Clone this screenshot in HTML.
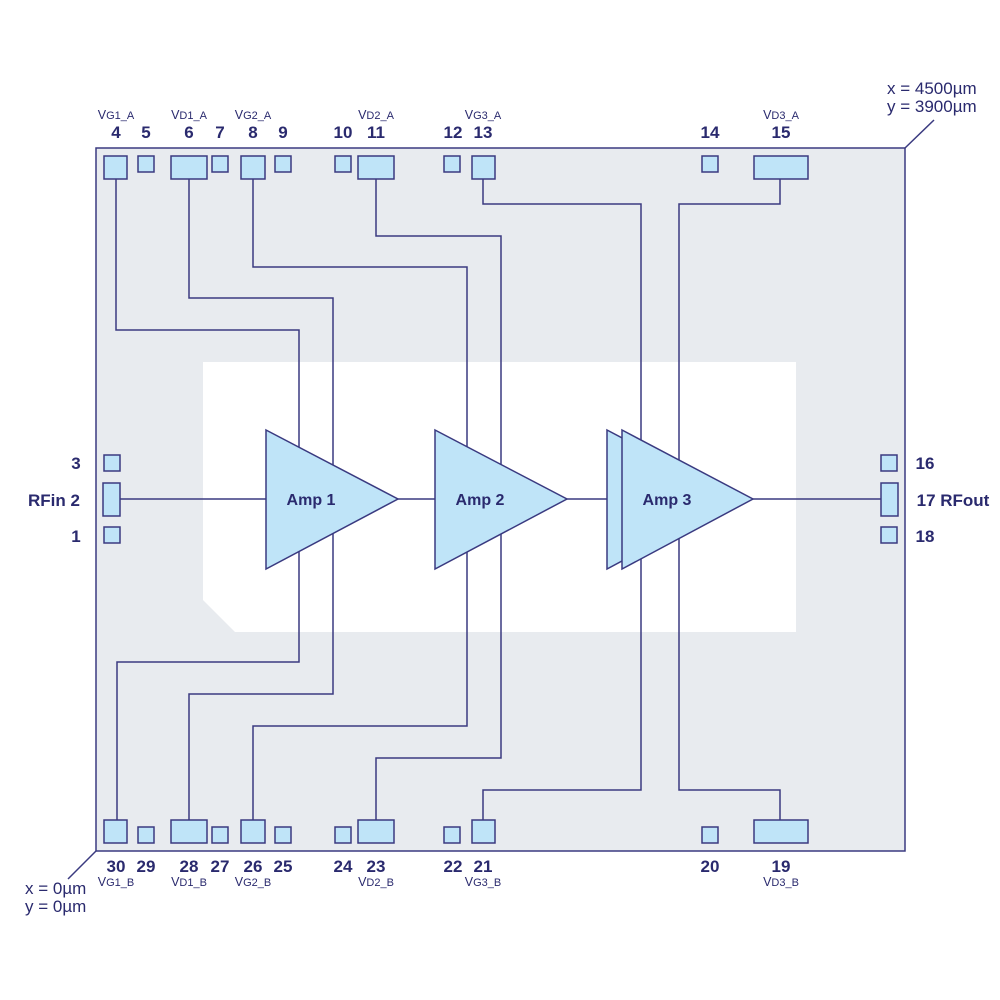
<!DOCTYPE html>
<html><head><meta charset="utf-8"><style>
html,body{margin:0;padding:0;background:#fff;}
svg{display:block;}
text{font-family:"Liberation Sans",sans-serif;fill:#2a2a6e;}
.n{font-size:17px;font-weight:bold;text-anchor:middle;}
.s{font-size:11px;text-anchor:middle;}
.s tspan.b{font-size:12.5px;}
.c{font-size:17px;}
.w{fill:none;stroke:#3a3a80;stroke-width:1.5;}
.p{fill:#bfe4f8;stroke:#3a3a80;stroke-width:1.5;}
.a{font-size:16px;font-weight:bold;text-anchor:middle;}
</style></head><body>
<svg width="1000" height="1000" viewBox="0 0 1000 1000" xmlns="http://www.w3.org/2000/svg">
<rect x="96" y="148" width="809" height="703" fill="#e8ebef" stroke="#3a3a80" stroke-width="1.5"/>
<polygon points="203,362 796,362 796,632 235,632 203,600" fill="#fff"/>
<line class="w" x1="905" y1="148" x2="934" y2="120"/>
<line class="w" x1="96" y1="851" x2="68" y2="879"/>
<polyline class="w" points="116,179 116,330 299,330 299,499"/>
<polyline class="w" points="189,179 189,298 333,298 333,499"/>
<polyline class="w" points="253,179 253,267 467,267 467,499"/>
<polyline class="w" points="376,179 376,236 501,236 501,499"/>
<polyline class="w" points="483,179 483,204 641,204 641,499"/>
<polyline class="w" points="780,179 780,204 679,204 679,499"/>
<polyline class="w" points="299,499 299,662 117,662 117,820"/>
<polyline class="w" points="333,499 333,694 189,694 189,820"/>
<polyline class="w" points="467,499 467,726 253,726 253,820"/>
<polyline class="w" points="501,499 501,758 376,758 376,820"/>
<polyline class="w" points="641,499 641,790 483,790 483,820"/>
<polyline class="w" points="679,499 679,790 780,790 780,820"/>
<line class="w" x1="120" y1="499" x2="881" y2="499"/>
<polygon class="p" points="266,430 398,499 266,569"/>
<polygon class="p" points="435,430 567,499 435,569"/>
<polygon class="p" points="607,430 738,499 607,569"/>
<polygon class="p" points="622,430 753,499 622,569"/>
<text class="a" x="311" y="505">Amp 1</text>
<text class="a" x="480" y="505">Amp 2</text>
<text class="a" x="667" y="505">Amp 3</text>
<rect class="p" x="104" y="156" width="23" height="23"/>
<rect class="p" x="138" y="156" width="16" height="16"/>
<rect class="p" x="171" y="156" width="36" height="23"/>
<rect class="p" x="212" y="156" width="16" height="16"/>
<rect class="p" x="241" y="156" width="24" height="23"/>
<rect class="p" x="275" y="156" width="16" height="16"/>
<rect class="p" x="335" y="156" width="16" height="16"/>
<rect class="p" x="358" y="156" width="36" height="23"/>
<rect class="p" x="444" y="156" width="16" height="16"/>
<rect class="p" x="472" y="156" width="23" height="23"/>
<rect class="p" x="702" y="156" width="16" height="16"/>
<rect class="p" x="754" y="156" width="54" height="23"/>
<rect class="p" x="104" y="820" width="23" height="23"/>
<rect class="p" x="138" y="827" width="16" height="16"/>
<rect class="p" x="171" y="820" width="36" height="23"/>
<rect class="p" x="212" y="827" width="16" height="16"/>
<rect class="p" x="241" y="820" width="24" height="23"/>
<rect class="p" x="275" y="827" width="16" height="16"/>
<rect class="p" x="335" y="827" width="16" height="16"/>
<rect class="p" x="358" y="820" width="36" height="23"/>
<rect class="p" x="444" y="827" width="16" height="16"/>
<rect class="p" x="472" y="820" width="23" height="23"/>
<rect class="p" x="702" y="827" width="16" height="16"/>
<rect class="p" x="754" y="820" width="54" height="23"/>
<rect class="p" x="104" y="455" width="16" height="16"/>
<rect class="p" x="103" y="483" width="17" height="33"/>
<rect class="p" x="104" y="527" width="16" height="16"/>
<rect class="p" x="881" y="455" width="16" height="16"/>
<rect class="p" x="881" y="483" width="17" height="33"/>
<rect class="p" x="881" y="527" width="16" height="16"/>
<text class="n" x="116" y="138">4</text>
<text class="n" x="146" y="138">5</text>
<text class="n" x="189" y="138">6</text>
<text class="n" x="220" y="138">7</text>
<text class="n" x="253" y="138">8</text>
<text class="n" x="283" y="138">9</text>
<text class="n" x="343" y="138">10</text>
<text class="n" x="376" y="138">11</text>
<text class="n" x="453" y="138">12</text>
<text class="n" x="483" y="138">13</text>
<text class="n" x="710" y="138">14</text>
<text class="n" x="781" y="138">15</text>
<text class="s" x="116" y="119"><tspan class="b">V</tspan>G1_A</text>
<text class="s" x="189" y="119"><tspan class="b">V</tspan>D1_A</text>
<text class="s" x="253" y="119"><tspan class="b">V</tspan>G2_A</text>
<text class="s" x="376" y="119"><tspan class="b">V</tspan>D2_A</text>
<text class="s" x="483" y="119"><tspan class="b">V</tspan>G3_A</text>
<text class="s" x="781" y="119"><tspan class="b">V</tspan>D3_A</text>
<text class="n" x="116" y="872">30</text>
<text class="n" x="146" y="872">29</text>
<text class="n" x="189" y="872">28</text>
<text class="n" x="220" y="872">27</text>
<text class="n" x="253" y="872">26</text>
<text class="n" x="283" y="872">25</text>
<text class="n" x="343" y="872">24</text>
<text class="n" x="376" y="872">23</text>
<text class="n" x="453" y="872">22</text>
<text class="n" x="483" y="872">21</text>
<text class="n" x="710" y="872">20</text>
<text class="n" x="781" y="872">19</text>
<text class="s" x="116" y="886"><tspan class="b">V</tspan>G1_B</text>
<text class="s" x="189" y="886"><tspan class="b">V</tspan>D1_B</text>
<text class="s" x="253" y="886"><tspan class="b">V</tspan>G2_B</text>
<text class="s" x="376" y="886"><tspan class="b">V</tspan>D2_B</text>
<text class="s" x="483" y="886"><tspan class="b">V</tspan>G3_B</text>
<text class="s" x="781" y="886"><tspan class="b">V</tspan>D3_B</text>
<text class="n" x="76" y="469">3</text>
<text class="n" x="54" y="506">RFin 2</text>
<text class="n" x="76" y="542">1</text>
<text class="n" x="925" y="469">16</text>
<text class="n" x="953" y="506">17 RFout</text>
<text class="n" x="925" y="542">18</text>
<text class="c" x="887" y="94">x = 4500µm</text>
<text class="c" x="887" y="112">y = 3900µm</text>
<text class="c" x="25" y="894">x = 0µm</text>
<text class="c" x="25" y="912">y = 0µm</text>
</svg>
</body></html>
